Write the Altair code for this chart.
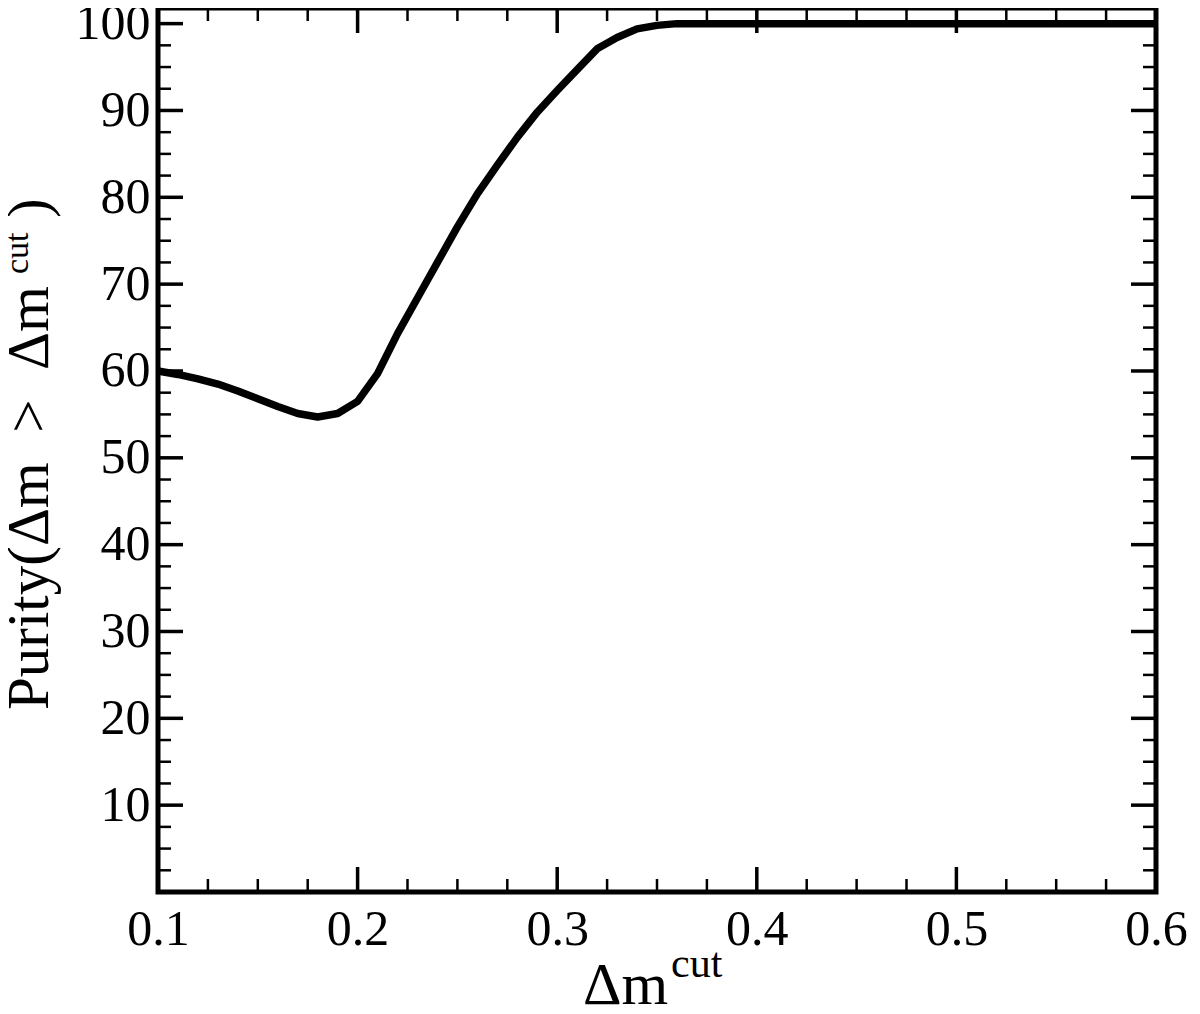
import altair as alt
import pandas as pd

# ---- data ----
dm_cut = [0.10, 0.11, 0.12, 0.13, 0.14, 0.15, 0.16, 0.17, 0.18, 0.19,
          0.20, 0.21, 0.22, 0.23, 0.24, 0.25, 0.26, 0.27, 0.28, 0.29,
          0.30, 0.31, 0.32, 0.33, 0.34, 0.35, 0.36, 0.40, 0.45, 0.50,
          0.55, 0.60]
purity = [60.0, 59.6, 59.1, 58.5, 57.7, 56.8, 55.9, 55.1, 54.7, 55.1,
          56.5, 59.7, 64.3, 68.4, 72.5, 76.6, 80.4, 83.7, 86.9, 89.8,
          92.3, 94.7, 97.1, 98.4, 99.4, 99.8, 100.0, 100.0, 100.0, 100.0,
          100.0, 100.0]

x_major = [0.1, 0.2, 0.3, 0.4, 0.5, 0.6]
x_minor = [0.125, 0.15, 0.175, 0.225, 0.25, 0.275, 0.325, 0.35, 0.375,
           0.425, 0.45, 0.475, 0.525, 0.55, 0.575]
y_major = [10, 20, 30, 40, 50, 60, 70, 80, 90, 100]
y_minor = [2.5, 5, 7.5, 12.5, 15, 17.5, 22.5, 25, 27.5, 32.5, 35, 37.5,
           42.5, 45, 47.5, 52.5, 55, 57.5, 62.5, 65, 67.5, 72.5, 75, 77.5,
           82.5, 85, 87.5, 92.5, 95, 97.5]

W, H = 998, 884
PADL = 150
FONT = "Liberation Serif"

xs = alt.Scale(domain=[0.1, 0.6], nice=False, zero=False)
ys = alt.Scale(domain=[0, 101.8], nice=False, zero=False)

xaxis = alt.Axis(values=x_major, format=".1f", labelFontSize=50, labelFont=FONT,
                 labelPadding=12, labelFlush=False, labelOverlap=False,
                 domain=False, ticks=False, grid=False, labelColor="black",
                 title=None)
yaxis = alt.Axis(values=y_major, labelFontSize=50, labelFont=FONT,
                 labelPadding=8, labelOverlap=False, domain=False,
                 ticks=False, grid=False, labelColor="black", title=None)

df = pd.DataFrame({"x": dm_cut, "y": purity})

line = alt.Chart(df).mark_line(color="black", strokeWidth=7.5, strokeJoin="round").encode(
    x=alt.X("x:Q", scale=xs, axis=xaxis, title=None),
    y=alt.Y("y:Q", scale=ys, axis=yaxis, title=None),
)

def yticks(vals, length, width):
    d = pd.DataFrame({"v": vals})
    left = alt.Chart(d).mark_rule(color="black", strokeWidth=width).encode(
        y=alt.Y("v:Q", scale=ys, axis=yaxis, title=None), x=alt.value(0), x2=alt.value(length))
    right = alt.Chart(d).mark_rule(color="black", strokeWidth=width).encode(
        y=alt.Y("v:Q", scale=ys, axis=yaxis, title=None), x=alt.value(W - length), x2=alt.value(W))
    return [left, right]

def xticks(vals, length, width):
    d = pd.DataFrame({"v": vals})
    bottom = alt.Chart(d).mark_rule(color="black", strokeWidth=width).encode(
        x=alt.X("v:Q", scale=xs, axis=xaxis, title=None), y=alt.value(H - length), y2=alt.value(H))
    top = alt.Chart(d).mark_rule(color="black", strokeWidth=width).encode(
        x=alt.X("v:Q", scale=xs, axis=xaxis, title=None), y=alt.value(0), y2=alt.value(length))
    return [bottom, top]

one = alt.Data(values=[{"a": 1}])

def txt(s, x, y, size, angle=0):
    return alt.Chart(one).mark_text(
        text=s, font=FONT, fontSize=size, color="black", align="left",
        baseline="alphabetic", angle=angle
    ).encode(x=alt.value(x), y=alt.value(y))

OX = 8 + PADL  # page x of plot origin
titles = [
    txt("Δm", 583 - OX, 1004 - 8, 60),
    txt("cut", 671 - OX, 977 - 8, 42),
    txt("Purity(Δm\u2002>\u2002Δm", 48 - OX, 710 - 8, 59, 270),
    txt("cut", 28 - OX, 274 - 8, 34, 270),
    txt(")", 48 - OX, 218 - 8, 59, 270),
]

layers = ([line] + yticks(y_major, 25, 3.5) + yticks(y_minor, 13, 2.5)
          + xticks(x_major, 25, 3.5) + xticks(x_minor, 13, 2.5) + titles)

chart = alt.layer(*layers).properties(
    width=W, height=H,
    background="white",
    autosize=alt.AutoSizeParams(type="none"),
    padding={"left": PADL, "top": 0, "right": 1184 - PADL - W, "bottom": 114},
).configure_view(stroke="black", strokeWidth=5)

chart.save("out.html", embed_options={"renderer": "svg", "actions": False})
